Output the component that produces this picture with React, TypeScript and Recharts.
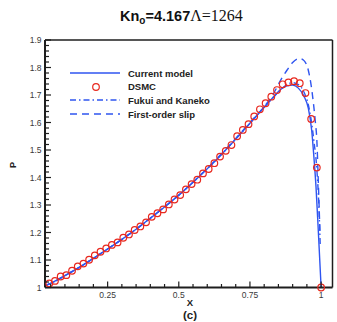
import React from "react";
import {
  ComposedChart,
  Legend,
  Line,
  Scatter,
  XAxis,
  YAxis,
} from "recharts";

const W = 337;
const H = 322;
const PLOT_LEFT = 45;
const PLOT_TOP = 40;
const PLOT_RIGHT = 332.5;
const PLOT_BOTTOM = 287.5;
// axes get 1px of room each so that recharts draws them
const MARGIN = {
  top: PLOT_TOP - 1,
  right: W - PLOT_RIGHT - 1,
  bottom: H - PLOT_BOTTOM - 1,
  left: PLOT_LEFT - 1,
};

const BLUE = "#2f55f0";
const RED = "#e8281e";
const AXIS = "#1e1e1e";
const LABEL = "#3a3a3a";

const X_DOMAIN = [0.03, 1.04];
const Y_DOMAIN = [1, 1.9];

const xTicks = [
  0.05, 0.1, 0.15, 0.2, 0.25, 0.3, 0.35, 0.4, 0.45, 0.5, 0.55, 0.6, 0.65,
  0.7, 0.75, 0.8, 0.85, 0.9, 0.95, 1.0,
];
const yTicks = [
  1.0, 1.02, 1.04, 1.06, 1.08, 1.1, 1.12, 1.14, 1.16, 1.18, 1.2, 1.22, 1.24,
  1.26, 1.28, 1.3, 1.32, 1.34, 1.36, 1.38, 1.4, 1.42, 1.44, 1.46, 1.48, 1.5,
  1.52, 1.54, 1.56, 1.58, 1.6, 1.62, 1.64, 1.66, 1.68, 1.7, 1.72, 1.74, 1.76,
  1.78, 1.8, 1.82, 1.84, 1.86, 1.88, 1.9,
];

// current model (solid)
const modelX = [
  0.03, 0.05, 0.1, 0.15, 0.2, 0.25, 0.3, 0.35, 0.4, 0.45, 0.5, 0.55, 0.6,
  0.65, 0.7, 0.75, 0.8, 0.83, 0.86, 0.88, 0.9, 0.92, 0.94, 0.955, 0.967,
  0.975, 0.982, 0.99, 1.0,
];
const modelP = [
  1.006, 1.015, 1.043, 1.073, 1.106, 1.14, 1.175, 1.212, 1.252, 1.293, 1.336,
  1.383, 1.432, 1.484, 1.54, 1.597, 1.655, 1.69, 1.722, 1.733, 1.736, 1.725,
  1.695, 1.652, 1.57, 1.47, 1.367, 1.209, 1.0,
];

// Fukui and Kaneko (dash-dot)
const fukuiX = [
  0.03, 0.05, 0.1, 0.15, 0.2, 0.25, 0.3, 0.35, 0.4, 0.45, 0.5, 0.55, 0.6,
  0.65, 0.7, 0.75, 0.8, 0.85, 0.88, 0.9, 0.92, 0.94, 0.955, 0.965, 0.975,
  0.985, 0.992, 0.997,
];
const fukuiP = [
  1.006, 1.015, 1.043, 1.073, 1.106, 1.14, 1.175, 1.212, 1.252, 1.293, 1.336,
  1.383, 1.432, 1.484, 1.54, 1.597, 1.656, 1.71, 1.738, 1.745, 1.738, 1.71,
  1.665, 1.61, 1.53, 1.43, 1.3, 1.15,
];

// first-order slip (dashed)
const slipX = [
  0.03, 0.05, 0.1, 0.15, 0.2, 0.25, 0.3, 0.35, 0.4, 0.45, 0.5, 0.55, 0.6,
  0.65, 0.7, 0.75, 0.8, 0.83, 0.86, 0.88, 0.9, 0.925, 0.94, 0.955, 0.965,
  0.973, 0.98, 0.985, 0.99, 0.996,
];
const slipP = [
  1.006, 1.015, 1.043, 1.073, 1.106, 1.14, 1.175, 1.212, 1.252, 1.293, 1.336,
  1.383, 1.433, 1.486, 1.542, 1.6, 1.658, 1.7, 1.758, 1.79, 1.818, 1.833,
  1.825, 1.79, 1.735, 1.67, 1.6, 1.536, 1.39, 1.197,
];

// DSMC (circles)
const dsmcX = [
  0.045, 0.065, 0.085, 0.105, 0.125, 0.145, 0.165, 0.185, 0.205, 0.225, 0.245,
  0.265, 0.285, 0.305, 0.325, 0.345, 0.365, 0.385, 0.405, 0.425, 0.445, 0.465,
  0.485, 0.505, 0.525, 0.545, 0.565, 0.585, 0.605, 0.625, 0.645, 0.665, 0.685,
  0.705, 0.725, 0.745, 0.765, 0.785, 0.805, 0.825, 0.845, 0.865, 0.885, 0.905,
  0.925, 0.945, 0.965, 0.985, 1.0,
];
const dsmcP = [
  1.015, 1.024, 1.04, 1.045, 1.061, 1.077, 1.087, 1.101, 1.117, 1.13, 1.142,
  1.155, 1.164, 1.181, 1.193, 1.209, 1.222, 1.237, 1.257, 1.27, 1.284, 1.302,
  1.32, 1.336, 1.357, 1.376, 1.392, 1.415, 1.431, 1.452, 1.476, 1.497, 1.518,
  1.55, 1.573, 1.594, 1.622, 1.648, 1.67, 1.694, 1.718, 1.739, 1.746, 1.75,
  1.743, 1.707, 1.613, 1.436, 1.0,
];

const zip = (xs: number[], ps: number[]) => xs.map((x, i) => ({ x, p: ps[i] }));
const modelData = zip(modelX, modelP);
const fukuiData = zip(fukuiX, fukuiP);
const slipData = zip(slipX, slipP);
const dsmcData = zip(dsmcX, dsmcP);

const isMajorX = (v: number) => Math.abs(v * 4 - Math.round(v * 4)) < 1e-6;
const isMajorY = (v: number) => Math.abs(v * 10 - Math.round(v * 10)) < 1e-6;

const tickFont = { fontFamily: "Arial, 'Liberation Sans', sans-serif", fontSize: 8.5 };

function BottomTick(props: any) {
  const { x, payload } = props;
  const v = payload.value as number;
  const major = isMajorX(v);
  return (
    <g>
      <line x1={x} x2={x} y1={PLOT_BOTTOM} y2={PLOT_BOTTOM - (major ? 6 : 3.5)} stroke={AXIS} strokeWidth={1.2} />
      {major && (
        <text x={x} y={PLOT_BOTTOM + 10} textAnchor="middle" fill={LABEL} style={tickFont}>
          {v === 1 ? "1" : String(v)}
        </text>
      )}
    </g>
  );
}

function TopTick(props: any) {
  const { x, payload } = props;
  const major = isMajorX(payload.value);
  return (
    <line x1={x} x2={x} y1={PLOT_TOP} y2={PLOT_TOP + (major ? 6 : 3.5)} stroke={AXIS} strokeWidth={1.2} />
  );
}

function LeftTick(props: any) {
  const { y, payload } = props;
  const v = payload.value as number;
  const major = isMajorY(v);
  return (
    <g>
      <line x1={PLOT_LEFT} x2={PLOT_LEFT + (major ? 6 : 4)} y1={y} y2={y} stroke={AXIS} strokeWidth={1.2} />
      {major && (
        <text x={PLOT_LEFT - 3.5} y={y} dy={3} textAnchor="end" fill={LABEL} style={tickFont}>
          {v === 1 ? "1" : v.toFixed(1)}
        </text>
      )}
    </g>
  );
}

function RightTick(props: any) {
  const { y, payload } = props;
  const major = isMajorY(payload.value);
  return (
    <line x1={PLOT_RIGHT} x2={PLOT_RIGHT - (major ? 6 : 4)} y1={y} y2={y} stroke={AXIS} strokeWidth={1.2} />
  );
}

const Ring = (props: any) => (
  <circle cx={props.cx} cy={props.cy} r={3.3} fill="none" stroke={RED} strokeWidth={1.2} />
);

const legendRows = [
  { name: "Current model", kind: "solid" },
  { name: "DSMC", kind: "circle" },
  { name: "Fukui and Kaneko", kind: "dashdot" },
  { name: "First-order slip", kind: "dash" },
];

function LegendBox() {
  return (
    <div style={{ fontFamily: "Arial, 'Liberation Sans', sans-serif", fontWeight: "bold", fontSize: 9.5, color: "#222" }}>
      {legendRows.map((r) => (
        <div key={r.name} style={{ display: "flex", alignItems: "center", height: 13.6 }}>
          <svg width={50} height={12} style={{ marginRight: 8, overflow: "visible" }}>
            {r.kind === "circle" ? (
              <circle cx={26} cy={6} r={3.3} fill="none" stroke={RED} strokeWidth={1.2} />
            ) : (
              <line
                x1={0}
                x2={50}
                y1={6}
                y2={6}
                stroke={BLUE}
                strokeWidth={1.4}
                strokeDasharray={r.kind === "dashdot" ? "6 3 1.5 3" : r.kind === "dash" ? "7 5" : undefined}
              />
            )}
          </svg>
          <span style={{ whiteSpace: "nowrap" }}>{r.name}</span>
        </div>
      ))}
    </div>
  );
}

export default function App() {
  return (
    <div style={{ position: "absolute", left: 0, top: 0, width: W, height: H, background: "#fff" }}>
      <div
        style={{
          position: "absolute",
          left: 120,
          top: 7,
          whiteSpace: "nowrap",
          color: "#111",
        }}
      >
        <span style={{ fontFamily: "Arial, 'Liberation Sans', sans-serif", fontWeight: "bold", fontSize: 14.5 }}>
          Kn
          <span style={{ fontSize: 10, position: "relative", top: 3 }}>o</span>
          =4.167
        </span>
        <span style={{ fontFamily: "'Times New Roman', 'Liberation Serif', serif", fontSize: 16 }}>Λ=1264</span>
      </div>
      <ComposedChart width={W} height={H} margin={MARGIN}>
        <XAxis
          xAxisId="b"
          type="number"
          dataKey="x"
          domain={X_DOMAIN}
          ticks={xTicks}
          interval={0}
          height={1}
          tickLine={false}
          axisLine={{ stroke: AXIS, strokeWidth: 2 }}
          tick={<BottomTick />}
        />
        <XAxis
          xAxisId="t"
          orientation="top"
          type="number"
          dataKey="x"
          domain={X_DOMAIN}
          ticks={xTicks}
          interval={0}
          height={1}
          tickLine={false}
          axisLine={{ stroke: AXIS, strokeWidth: 1.5 }}
          tick={<TopTick />}
        />
        <YAxis
          yAxisId="l"
          type="number"
          dataKey="p"
          domain={Y_DOMAIN}
          ticks={yTicks}
          interval={0}
          width={1}
          tickLine={false}
          axisLine={{ stroke: AXIS, strokeWidth: 2 }}
          tick={<LeftTick />}
        />
        <YAxis
          yAxisId="r"
          orientation="right"
          type="number"
          dataKey="p"
          domain={Y_DOMAIN}
          ticks={yTicks}
          interval={0}
          width={1}
          tickLine={false}
          axisLine={{ stroke: AXIS, strokeWidth: 1.5 }}
          tick={<RightTick />}
        />
        <Legend
          layout="horizontal"
          verticalAlign="middle"
          align="center"
          content={<LegendBox />}
          wrapperStyle={{ left: 70, top: 66.5, width: 150, height: 56 }}
        />
        <Line
          xAxisId="b"
          yAxisId="l"
          data={slipData}
          dataKey="p"
          type="monotone"
          stroke={BLUE}
          strokeWidth={1.4}
          strokeDasharray="7 5"
          dot={false}
          isAnimationActive={false}
        />
        <Line
          xAxisId="b"
          yAxisId="l"
          data={fukuiData}
          dataKey="p"
          type="monotone"
          stroke={BLUE}
          strokeWidth={1.4}
          strokeDasharray="6 3 1.5 3"
          dot={false}
          isAnimationActive={false}
        />
        <Line
          xAxisId="b"
          yAxisId="l"
          data={modelData}
          dataKey="p"
          type="monotone"
          stroke={BLUE}
          strokeWidth={1.4}
          dot={false}
          isAnimationActive={false}
        />
        <Scatter
          xAxisId="b"
          yAxisId="l"
          data={dsmcData}
          dataKey="p"
          shape={<Ring />}
          isAnimationActive={false}
        />
      </ComposedChart>
      <div
        style={{
          position: "absolute",
          left: 13,
          top: 165,
          transform: "translate(-50%, -50%) rotate(-90deg)",
          fontFamily: "Arial, 'Liberation Sans', sans-serif",
          fontWeight: "bold",
          fontSize: 9,
          color: "#222",
        }}
      >
        P
      </div>
      <div
        style={{
          position: "absolute",
          left: 190,
          top: 302,
          transform: "translate(-50%, -50%)",
          fontFamily: "Arial, 'Liberation Sans', sans-serif",
          fontWeight: "bold",
          fontSize: 9.5,
          color: "#222",
        }}
      >
        X
      </div>
      <div
        style={{
          position: "absolute",
          left: 190,
          top: 315,
          transform: "translate(-50%, -50%)",
          fontFamily: "Arial, 'Liberation Sans', sans-serif",
          fontWeight: "bold",
          fontSize: 11.5,
          color: "#222",
        }}
      >
        (c)
      </div>
    </div>
  );
}
